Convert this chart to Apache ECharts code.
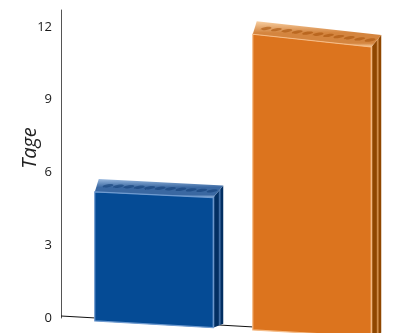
<!DOCTYPE html>
<html>
<head>
<meta charset="utf-8">
<script src="https://cdn.jsdelivr.net/npm/echarts@6/dist/echarts.min.js"></script>
<style>
  html, body { margin: 0; padding: 0; background: #fff; }
  #chart { width: 403px; height: 333px; }
</style>
</head>
<body>
<div id="chart"></div>
<script>
// Days per group
const categories = ['A', 'B'];
const values = [5.2, 11.7];
const yTicks = [0, 3, 6, 9, 12];

// Face colours per bar: front, side, cap
const palettes = [
  { front: '#054b95', edge: '#6f9bd0', side: '#022f62', sideLight: '#4b78b0', cap: '#3a68a2', capLight: '#9cbbe0', dimple: '#123f78' },
  { front: '#dc741e', edge: '#f6bd88', side: '#8f4600', sideLight: '#dc9a58', cap: '#d4853f', capLight: '#f8cfa2', dimple: '#a8540c' }
];

const chart = echarts.init(document.getElementById('chart'), null, { renderer: 'canvas' });

function renderBar(params, api) {
  const idx = params.dataIndex;
  const p = palettes[idx];
  const cs = params.coordSys;
  const axisX = cs.x - 14;
  const center = api.coord([api.value(0), 0])[0];
  const y0 = api.coord([api.value(0), 0])[1];
  const yv = api.coord([api.value(0), api.value(1)])[1];
  const bw = api.size([1, 0])[0] * 0.75;
  const x0 = center - bw / 2;
  const x1 = center + bw / 2;
  const base = x => y0 - 2 + (x - axisX) * 0.057;
  const slant = (y0 - yv) * 0.045;
  const depthX = 10, depthY = 12;

  const tl = [x0, yv], tr = [x1, yv + slant];
  const bl = [x0, base(x0) + 3], br = [x1, base(x1) + 3];
  const children = [];

  if (idx === 0) {
    children.push({
      type: 'polyline',
      shape: { points: [[axisX, y0 - 2], [cs.x + cs.width + 20, base(cs.x + cs.width + 20)]] },
      style: { stroke: '#111', lineWidth: 1, fill: null }
    });
  }

  // side face
  children.push({
    type: 'polygon',
    shape: { points: [tr, [x1 + depthX, tr[1] - depthY], [x1 + depthX, br[1] - 4], br] },
    style: {
      fill: new echarts.graphic.LinearGradient(0, 0, 1, 0, [
        { offset: 0, color: p.sideLight },
        { offset: 0.2, color: p.side },
        { offset: 0.5, color: p.side },
        { offset: 0.65, color: p.sideLight },
        { offset: 0.8, color: p.side },
        { offset: 1, color: p.side }
      ])
    }
  });

  // top cap
  children.push({
    type: 'polygon',
    shape: { points: [tl, tr, [x1 + depthX, tr[1] - depthY], [x0 + 4, yv - depthY - 1]] },
    style: {
      fill: new echarts.graphic.LinearGradient(0, 0, 0, 1, [
        { offset: 0, color: p.capLight },
        { offset: 0.45, color: p.cap },
        { offset: 0.85, color: p.cap },
        { offset: 1, color: p.capLight }
      ])
    }
  });
  // dimples along the cap
  const n = 11;
  for (let i = 0; i < n; i++) {
    const t = (i + 0.6) / n;
    const cx = x0 + 7 + t * (bw - 4);
    const cy = yv - depthY / 2 - 0.5 + t * slant;
    children.push({
      type: 'ellipse',
      shape: { cx: cx, cy: cy, rx: 5.5, ry: 1.5 },
      rotation: 0.15,
      originX: cx,
      originY: cy,
      style: { fill: p.dimple, opacity: 0.6 }
    });
  }

  // front face
  children.push({
    type: 'polygon',
    shape: { points: [tl, tr, br, bl] },
    style: { fill: p.front, stroke: p.edge, lineWidth: 1.2 }
  });

  return { type: 'group', children: children };
}

chart.setOption({
  animation: false,
  grid: { left: 75, right: 12, top: 10, bottom: 15 },
  xAxis: {
    type: 'category',
    data: categories,
    axisLine: { show: false },
    axisTick: { show: false },
    axisLabel: { show: false },
    splitLine: { show: false }
  },
  yAxis: {
    type: 'value',
    min: 0,
    max: 12.7,
    interval: 3,
    offset: 14,
    name: 'Tage',
    nameLocation: 'middle',
    nameGap: 21,
    nameMoveOverlap: false,
    nameTextStyle: {
      fontFamily: 'Open Sans',
      fontStyle: 'italic',
      fontSize: 20,
      color: '#222',
      padding: [0, 0, 0, 32]
    },
    axisLine: { show: true, lineStyle: { color: '#555', width: 1 } },
    axisTick: { show: false },
    splitLine: { show: false },
    axisLabel: {
      margin: 9,
      fontFamily: 'Open Sans',
      fontSize: 13,
      color: '#1a1a1a',
      formatter: v => (yTicks.indexOf(v) >= 0 ? String(v) : '')
    }
  },
  series: [{
    type: 'custom',
    renderItem: renderBar,
    clip: false,
    encode: { x: 0, y: 1 },
    data: categories.map((c, i) => [i, values[i]])
  }]
});
</script>
</body>
</html>
